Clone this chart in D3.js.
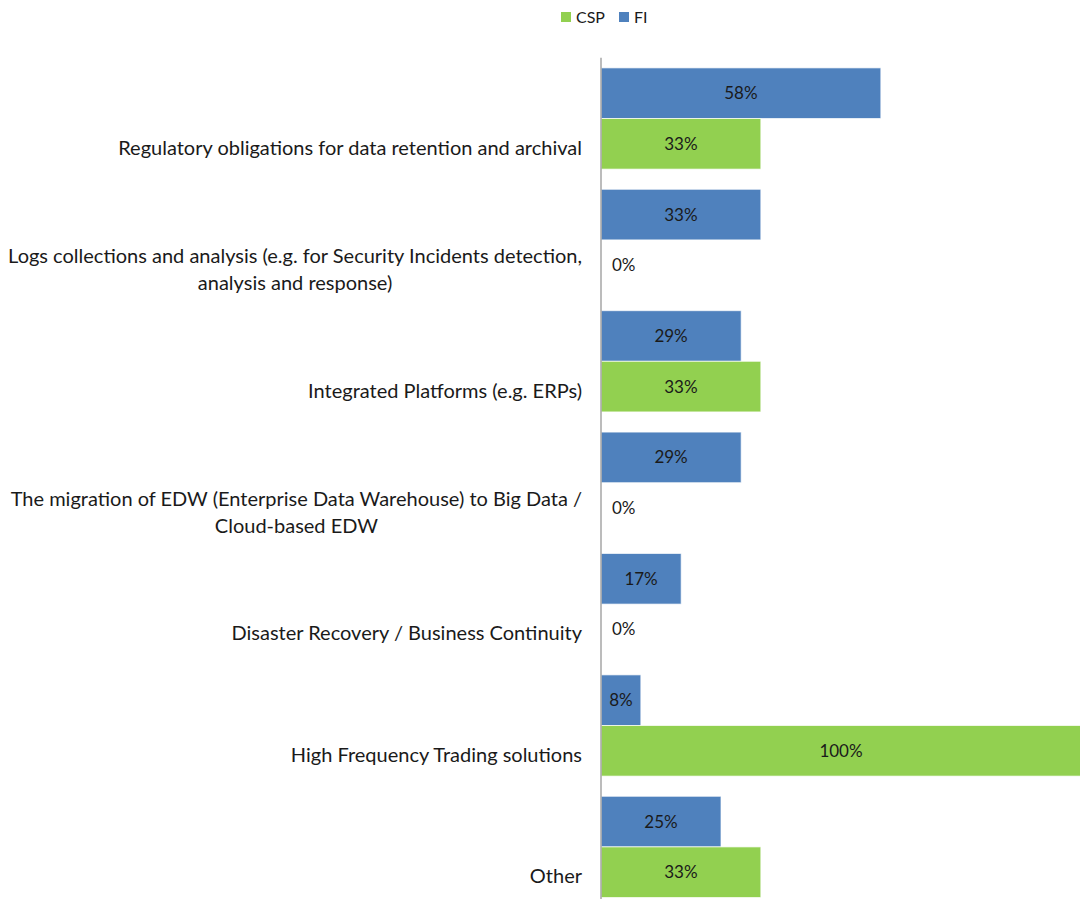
<!DOCTYPE html>
<html>
<head>
<meta charset="utf-8">
<script src="https://cdn.jsdelivr.net/npm/d3@7"></script>
<style>
  html, body { margin: 0; padding: 0; background: #fff; }
  svg { display: block; }
</style>
</head>
<body>
<div id="chart"></div>
<script>
const categories = [
  ["Regulatory obligations for data retention and archival"],
  ["Logs collections and analysis (e.g. for Security Incidents detection,", "analysis and response)"],
  ["Integrated Platforms (e.g. ERPs)"],
  ["The migration of EDW (Enterprise Data Warehouse) to Big Data /", "Cloud-based EDW"],
  ["Disaster Recovery / Business Continuity"],
  ["High Frequency Trading solutions"],
  ["Other"]
];
const fiValues  = [58.3, 33.3, 29.2, 29.2, 16.7, 8.3, 25.0];
const cspValues = [33.3, 0, 33.3, 0, 0, 100, 33.3];
const seriesNames = ["FI", "CSP"];
const legendNames = ["CSP", "FI"];
const colors = { FI: "#4F81BD", CSP: "#92D050" };

const W = 1080, H = 899;
const svg = d3.select("#chart").append("svg").attr("width", W).attr("height", H);
const FONT = "Lato, 'Open Sans', sans-serif";

const x = d3.scaleLinear().domain([0, 100]).range([601, 1081]);
const ids = categories.map((c, i) => i);
const y = d3.scaleBand().domain(ids).range([57.8, 907.6]).paddingInner(0.166).paddingOuter(0.083);
const yInner = d3.scaleBand().domain(seriesNames).range([0, y.bandwidth()]);

const data = ids.map(i => ({ i, FI: fiValues[i], CSP: cspValues[i] }));

const plot = svg.append("g");
const groups = plot.selectAll("g.grp").data(data).join("g")
  .attr("class", "grp")
  .attr("transform", d => `translate(0,${y(d.i)})`);

groups.selectAll("rect").data(d => seriesNames.map(s => ({ s, v: d[s] }))).join("rect")
  .attr("x", x(0))
  .attr("y", d => yInner(d.s))
  .attr("width", d => x(d.v) - x(0))
  .attr("height", yInner.bandwidth())
  .attr("fill", d => colors[d.s])
  .attr("stroke", d => d.v > 0 ? "#ffffff" : "none")
  .attr("stroke-opacity", 0.7)
  .attr("stroke-width", 1);

groups.selectAll("text.val").data(d => seriesNames.map(s => ({ s, v: d[s] }))).join("text")
  .attr("class", "val")
  .attr("x", d => d.v > 0 ? (x(0) + x(d.v)) / 2 : x(0) + 11)
  .attr("y", d => yInner(d.s) + yInner.bandwidth() / 2)
  .attr("dy", "0.35em")
  .attr("text-anchor", d => d.v > 0 ? "middle" : "start")
  .attr("font-family", FONT)
  .attr("font-size", 17)
  .attr("fill", "#1a1a1a")
  .text(d => Math.round(d.v) + "%");

// axis line
const yAxis = d3.axisLeft(y).tickSize(0).tickFormat("");
const axG = svg.append("g").attr("transform", `translate(${x(0)},0)`).call(yAxis);
axG.select(".domain").attr("stroke", "#A6A6A6").attr("stroke-width", 1.5).attr("d", `M0,57.8V907.6`);

// category labels
const labelRight = 582;
const lineH = 27;
categories.forEach((lines, i) => {
  const cy = y(i) + yInner("CSP") + yInner.bandwidth() / 2 + 4;
  const t = svg.append("text")
    .attr("font-family", FONT)
    .attr("font-size", 20)
    .attr("fill", "#1a1a1a");
  const spans = lines.map((ln, k) => t.append("tspan").text(ln));
  const widths = spans.map(s => s.node().getComputedTextLength());
  const maxW = d3.max(widths);
  const cx = labelRight - maxW / 2;
  const startY = cy - (lines.length - 1) * lineH / 2;
  spans.forEach((s, k) => s.attr("x", lines.length > 1 ? cx : labelRight)
    .attr("y", startY + k * lineH)
    .attr("dy", "0.35em")
    .attr("text-anchor", lines.length > 1 ? "middle" : "end"));
});

// legend
const legend = svg.append("g");
const legendX = { CSP: 561, FI: 619 };
legendNames.forEach(n => {
  legend.append("rect").attr("x", legendX[n]).attr("y", 12).attr("width", 10).attr("height", 10).attr("fill", colors[n]);
  legend.append("text").attr("x", legendX[n] + 15).attr("y", 17).attr("dy", "0.35em")
    .attr("font-family", FONT).attr("font-size", 16).attr("fill", "#1a1a1a").text(n);
});
</script>
</body>
</html>
